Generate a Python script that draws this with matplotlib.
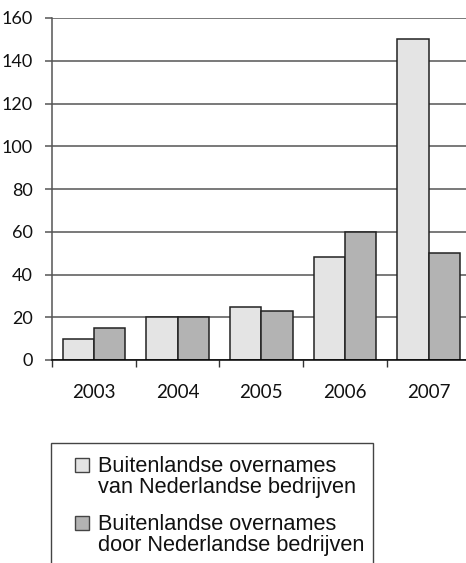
import matplotlib
matplotlib.use("Agg")
import matplotlib.pyplot as plt
from matplotlib.patches import Rectangle
import numpy as np

years = ["2003", "2004", "2005", "2006", "2007"]
# foreign takeovers of Dutch companies / by Dutch companies
van_nl = [10, 20, 25, 48, 150]
door_nl = [15, 20, 23, 60, 50]
legend_labels = ["Buitenlandse overnames\nvan Nederlandse bedrijven",
                 "Buitenlandse overnames\ndoor Nederlandse bedrijven"]
bar_colors = ["#e4e4e4", "#b3b3b3"]
yticks = [0, 20, 40, 60, 80, 100, 120, 140, 160]

W, H = 466, 563
fig = plt.figure(figsize=(W / 100, H / 100), dpi=100)
ax = fig.add_axes([52 / W, (H - 360) / H, 418.5 / W, 342 / H])

x = np.arange(len(years))
w = 0.374
ax.bar(x - w / 2, van_nl, w, color=bar_colors[0], edgecolor="#222222", linewidth=1.1, zorder=3)
ax.bar(x + w / 2, door_nl, w, color=bar_colors[1], edgecolor="#222222", linewidth=1.1, zorder=3)

ax.set_xlim(-0.5, len(years) - 0.5)
ax.set_ylim(0, 160)
ax.set_yticks(yticks)
ax.yaxis.grid(True, color="#555555", linewidth=1.1, zorder=0)
ax.set_axisbelow(True)

# category labels centred, tick marks between groups
ax.set_xticks(x)
ax.set_xticklabels(years, fontfamily="Lato", fontsize=13.5, color="#111111")
ax.tick_params(axis="x", which="major", length=0, pad=17)
ax.set_xticks(np.arange(-0.5, len(years)), minor=True)
ax.tick_params(axis="x", which="minor", length=5, width=1, color="#333333", direction="out")
ax.tick_params(axis="y", length=5, width=1.1, color="#555555", pad=9, labelsize=13,
               labelcolor="#111111")
for lab in ax.get_yticklabels():
    lab.set_fontfamily("Lato")

for side in ["top", "right"]:
    ax.spines[side].set_visible(False)
ax.spines["left"].set_color("#555555")
ax.spines["left"].set_linewidth(1.1)
ax.spines["bottom"].set_color("#000000")
ax.spines["bottom"].set_linewidth(1.1)
ax.spines["bottom"].set_zorder(4)

# legend box, running off the bottom of the figure
fig.patches.append(Rectangle((51 / W, -0.05), (373 - 51) / W, 0.05 + (H - 443) / H,
                             transform=fig.transFigure, fill=False,
                             edgecolor="#444444", linewidth=1.0))
patch_y = [465, 523]
text_y = [472, 530]
for label, color, py, ty in zip(legend_labels, bar_colors, patch_y, text_y):
    fig.patches.append(Rectangle((75 / W, (H - py - 7) / H), 14 / W, 14 / H,
                                 transform=fig.transFigure, facecolor=color,
                                 edgecolor="#444444", linewidth=1.0))
    for i, line in enumerate(label.split("\n")):
        fig.text(98 / W, (H - ty - i * 21.5) / H, line, fontfamily="Liberation Sans",
                 fontsize=15.7, va="baseline", ha="left", color="#111111")

fig.savefig("out.png", dpi=100)
